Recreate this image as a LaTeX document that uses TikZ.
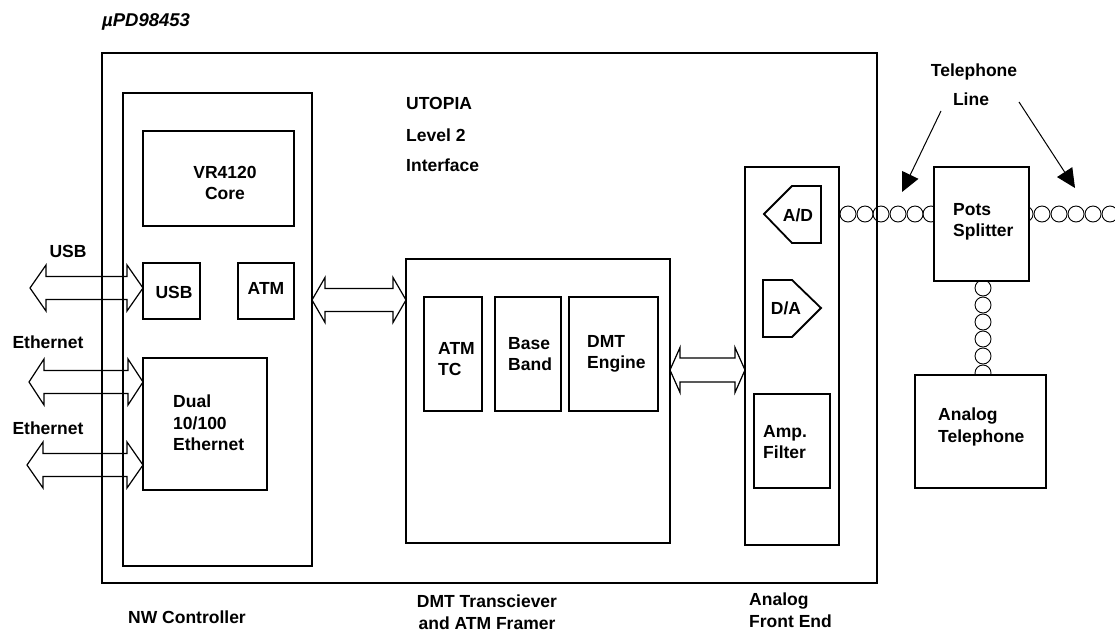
\documentclass[tikz,border=0pt]{standalone}
\usepackage{fontspec}
\setmainfont{Liberation Sans}
\usetikzlibrary{calc,arrows.meta}
\newcommand\dblarr[5]{%
  \draw[blk] let \p1=(#1), \p2=(#2) in
    (\x1,\y1) -- (\x1+#3,\y1+#4) -- (\x1+#3,\y1+#5) -- (\x2-#3,\y1+#5) -- (\x2-#3,\y1+#4)
    -- (\x2,\y1) -- (\x2-#3,\y1-#4) -- (\x2-#3,\y1-#5) -- (\x1+#3,\y1-#5) -- (\x1+#3,\y1-#4) -- cycle;}
\begin{document}
\begin{tikzpicture}[x=1pt,y=-1pt,
  box/.style={draw,line width=1.8pt,inner sep=0pt,outer sep=0pt,anchor=north west},
  wbox/.style={box,fill=white},
  blk/.style={draw,line width=1.2pt,line join=miter},
  ring/.style={draw,line width=0.9pt},
  txt/.style={font=\fontsize{17.5}{21.5}\selectfont\bfseries,inner sep=0pt,align=left},
  ctxt/.style={txt,align=center},
  tline/.style={line width=1pt,-{Triangle[length=19pt,width=18pt]}}]
\useasboundingbox (0,0) rectangle (1115,632);

% boxes
\node[box,minimum width=775pt,minimum height=530pt] (outer) at (102,53) {};
\node[box,minimum width=189pt,minimum height=473pt] (nw) at (123,93) {};
\node[box,minimum width=151pt,minimum height=95pt] (vr) at (143,131) {};
\node[box,minimum width=57pt,minimum height=56pt] (usbbox) at (143,263) {};
\node[box,minimum width=56pt,minimum height=56pt] (atmbox) at (238,263) {};
\node[box,minimum width=124pt,minimum height=132pt] (dual) at (143,358) {};
\node[box,minimum width=264pt,minimum height=284pt] (dmt) at (406,259) {};
\node[box,minimum width=58pt,minimum height=114pt] (atmtc) at (424,297) {};
\node[box,minimum width=66pt,minimum height=114pt] (bb) at (495,297) {};
\node[box,minimum width=89pt,minimum height=114pt] (eng) at (569,297) {};
\node[box,minimum width=94pt,minimum height=378pt] (afe) at (745,167) {};
\node[box,minimum width=76pt,minimum height=94pt] (amp) at (754,394) {};

% A/D and D/A
\draw[line width=1.8pt,line join=miter] (764,214) -- (792,186) -- (821,186) -- (821,243) -- (792,243) -- cycle;
\draw[line width=1.8pt,line join=miter] (763,280) -- (792,280) -- (821,308) -- (792,337) -- (763,337) -- cycle;

% block arrows
\coordinate (usbL) at (30,288);
\coordinate (eth1L) at (29,382);
\coordinate (eth2L) at (27,465);
\coordinate (a3) at (0,300);
\coordinate (a4) at (0,370);
\dblarr{usbL}{usbbox.west |- usbL}{16pt}{23pt}{11.5pt}
\dblarr{eth1L}{dual.west |- eth1L}{15pt}{23pt}{11.5pt}
\dblarr{eth2L}{dual.west |- eth2L}{16pt}{23pt}{11.5pt}
\dblarr{nw.east |- a3}{dmt.west |- a3}{13pt}{22.5pt}{11.5pt}
\dblarr{dmt.east |- a4}{afe.west |- a4}{10pt}{22.5pt}{12pt}

% telephone cable rings
\foreach \cx in {848,865,881,898,915,931} \draw[ring] (\cx,214) circle[radius=8pt];
\foreach \cx in {1025,1042,1059,1076,1093,1110} \draw[ring] (\cx,214) circle[radius=8pt];
\foreach \cy in {288,305,322,339,356,373} \draw[ring] (983,\cy) circle[radius=8pt];

\node[wbox,minimum width=95pt,minimum height=114pt] (spl) at (934,167) {};
\node[wbox,minimum width=131pt,minimum height=113pt] (tel) at (915,375) {};

% texts
\node[txt,anchor=west,font=\fontsize{18.5}{21.5}\selectfont\bfseries\itshape] (title) at (102,22) {µPD98453};
\node[txt,anchor=west] (utopia) at (406,103) {UTOPIA};
\node[txt,anchor=west] (level) at (406,135) {Level 2};
\node[txt,anchor=west] (intf) at (406,165) {Interface};
\node[ctxt] (vrt) at (225,183) {VR4120\\Core};
\node[txt] (usbt) at (174,292) {USB};
\node[txt] (atmt) at (266,288) {ATM};
\node[txt,anchor=west] (dualt) at (173,423) {Dual\\10/100\\Ethernet};
\node[txt,anchor=west] (atmtct) at (438,359) {ATM\\TC};
\node[txt,anchor=west] (bbt) at (508,354) {Base\\Band};
\node[txt,anchor=west] (engt) at (587,354) {DMT\\Engine};
\node[txt] (adt) at (798,215) {A/D};
\node[txt] (dat) at (786,308) {D/A};
\node[txt,anchor=west] (ampt) at (763,442) {Amp.\\Filter};
\node[txt,anchor=west] (splt) at (953,222) {Pots\\Splitter};
\node[txt,anchor=west] (telt) at (938,427) {Analog\\Telephone};
\node[txt] (tl1) at (974,72) {Telephone};
\node[txt] (tl2) at (971,99) {Line};
\node[txt] (usbl) at (68,251) {USB};
\node[txt] (eth1) at (48,342) {Ethernet};
\node[txt] (eth2) at (48,428) {Ethernet};
\node[txt] (nwc) at (187,617) {NW Controller};
\node[ctxt] (dmtc) at (487,612) {DMT Transciever\\and ATM Framer};
\node[txt,anchor=west] (afec) at (749,610) {Analog\\Front End};

% telephone line arrows
\coordinate (tlA) at (941,111);
\coordinate (tlB) at (1019,102);
\coordinate (tipA) at (902,192);
\coordinate (tipB) at (1075,188);
\draw[tline] (tlA) -- (tipA);
\draw[tline] (tlB) -- (tipB);
\end{tikzpicture}
\end{document}
